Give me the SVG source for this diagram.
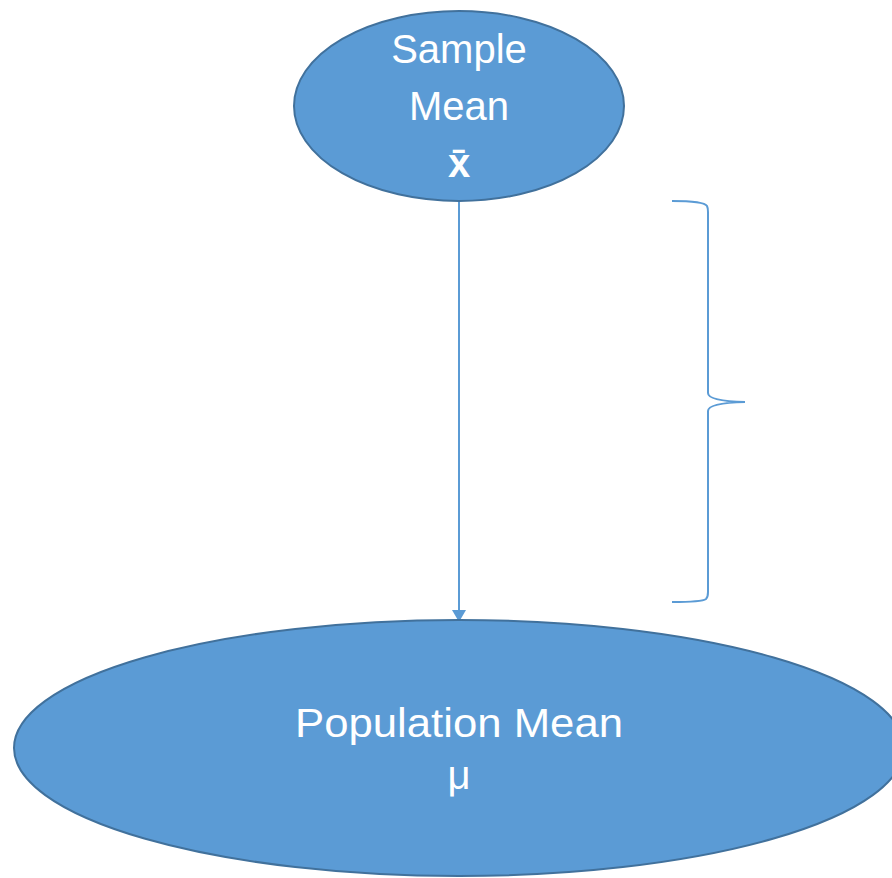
<svg xmlns="http://www.w3.org/2000/svg" width="892" height="878" viewBox="0 0 892 878">
<style>
.node{fill:#5B9BD5;stroke:#41719C;stroke-width:2}
.lbl{font-family:"Liberation Sans",Arial,sans-serif;fill:#FFFFFF;text-anchor:middle;font-size:40px}
.conn{stroke:#5B9BD5;stroke-width:2;fill:none}
</style>
<defs>
<marker id="arr" markerWidth="14" markerHeight="14" refX="12" refY="7" orient="auto" markerUnits="userSpaceOnUse">
<path d="M0,0 L12,7 L0,14 Z" fill="#5B9BD5"/>
</marker>
</defs>
<rect width="892" height="878" fill="#FFFFFF"/>
<g id="connectors">
<line class="conn" x1="459" y1="202" x2="459" y2="622" marker-end="url(#arr)"/>
</g>
<g id="population-mean">
<ellipse class="node" cx="459" cy="748" rx="445" ry="128"/>
<text class="lbl" x="459" y="737" font-size="41" textLength="328" lengthAdjust="spacingAndGlyphs">Population Mean</text>
<text class="lbl" x="459" y="789" font-size="44">μ</text>
</g>
<g id="sample-mean">
<ellipse class="node" cx="459" cy="106" rx="165" ry="95"/>
<text class="lbl" x="459" y="63" font-size="41">Sample</text>
<text class="lbl" x="459" y="120" font-size="41">Mean</text>
<text class="lbl" x="459" y="177" font-weight="bold">x̄</text>
</g>
<g id="brace">
<path class="conn" d="M672,201 Q704,201 707,206 Q708,208 708,212 L708,393 Q708,401 745,402 Q708,403 708,411 L708,592 Q708,597 706,599 Q702,602 672,602"/>
</g>
</svg>
